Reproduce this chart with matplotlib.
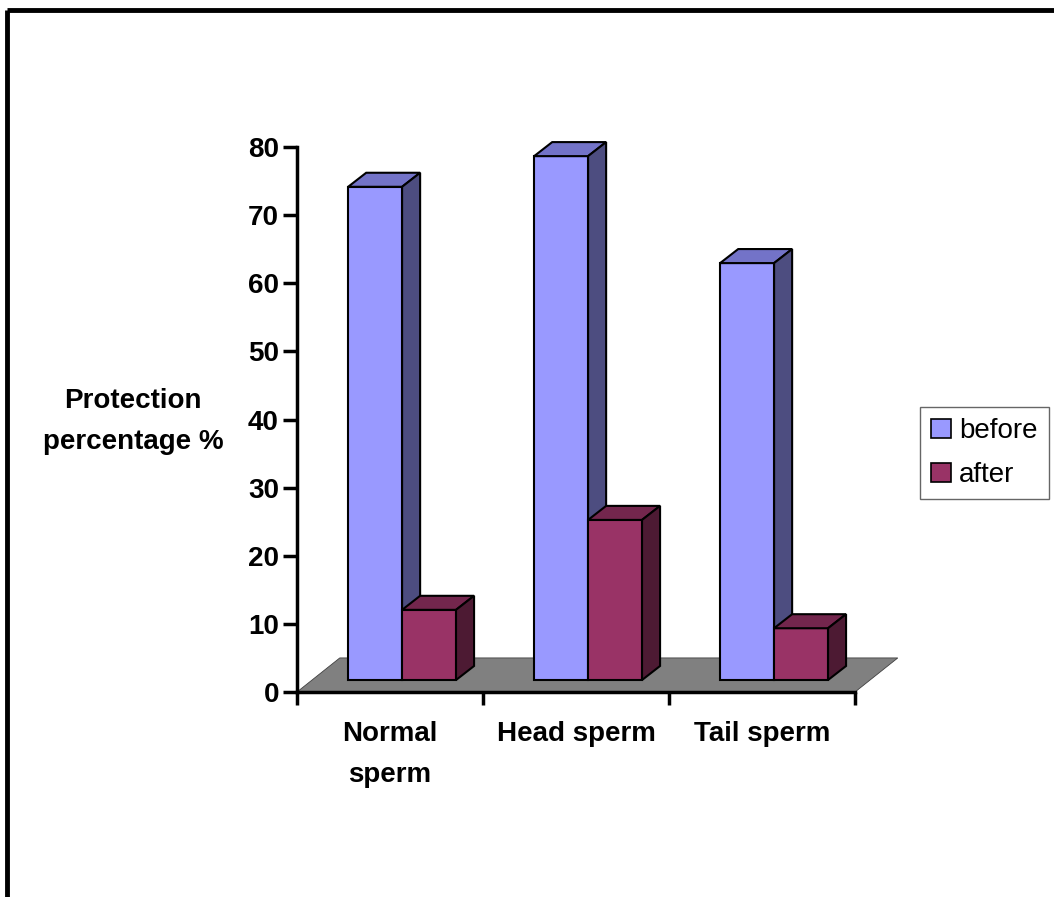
import matplotlib
matplotlib.use("Agg")
import matplotlib.pyplot as plt
from matplotlib.patches import Polygon, Patch
from matplotlib.lines import Line2D

plt.rcParams['font.family'] = ['Liberation Sans', 'DejaVu Sans']

# ---- data ----
categories = ["Normal\nsperm", "Head sperm", "Tail sperm"]
series_names = ["before", "after"]
before = [72.4, 76.9, 61.2]
after = [10.3, 23.5, 7.6]
yticks = [0, 10, 20, 30, 40, 50, 60, 70, 80]

# ---- style ----
front_cols = ["#9999FF", "#993366"]
top_cols = ["#7373C8", "#73264D"]
side_cols = ["#4D4D80", "#4D1A33"]
floor_col = "#808080"
bar_w = 0.29
floor_dx, floor_dy = 0.23, 5.0      # floor depth (data units)
front_dx, front_dy = 0.065, 1.76    # bar front face depth offset
depth_dx, depth_dy = 0.097, 2.06    # bar depth
FS = 20

fig = plt.figure(figsize=(10.54, 8.97), dpi=100)
W, H = 1054, 897
ax = fig.add_axes([297 / W, 1 - 692 / H, 558 / W, 545 / H])
ax.set_xlim(0, len(categories))
ax.set_ylim(0, 80)

# floor
n = len(categories)
floor = Polygon([(0, 0), (n, 0), (n + floor_dx, floor_dy), (floor_dx, floor_dy)],
                closed=True, facecolor=floor_col, edgecolor="#404040", lw=0.6,
                clip_on=False, zorder=1)
ax.add_patch(floor)

def draw_bar(x0, val, k):
    y0 = front_dy
    xl = x0 + front_dx
    xr = xl + bar_w
    yt = y0 + val
    kw = dict(edgecolor="black", lw=1.5, clip_on=False, zorder=3, joinstyle="miter")
    ax.add_patch(Polygon([(xl, y0), (xr, y0), (xr, yt), (xl, yt)], facecolor=front_cols[k], **kw))
    ax.add_patch(Polygon([(xl, yt), (xr, yt), (xr + depth_dx, yt + depth_dy), (xl + depth_dx, yt + depth_dy)],
                         facecolor=top_cols[k], **kw))
    ax.add_patch(Polygon([(xr, y0), (xr + depth_dx, y0 + depth_dy), (xr + depth_dx, yt + depth_dy), (xr, yt)],
                         facecolor=side_cols[k], **kw))

for i in range(n):
    draw_bar(i + 0.5 - bar_w, before[i], 0)
    draw_bar(i + 0.5, after[i], 1)

# axes styling
for s in ["top", "right"]:
    ax.spines[s].set_visible(False)
for s in ["left", "bottom"]:
    ax.spines[s].set_linewidth(2.5)
    ax.spines[s].set_zorder(2)
ax.patch.set_visible(False)

ax.set_yticks(yticks)
ax.set_yticklabels([str(v) for v in yticks], fontsize=FS, fontweight="bold")
ax.tick_params(axis="y", direction="out", length=10, width=2.5, pad=3)
ax.set_xticks(range(n + 1))
ax.set_xticklabels([])
ax.tick_params(axis="x", which="major", direction="out", length=9, width=2.5)
ax.set_xticks([i + 0.5 for i in range(n)], minor=True)
ax.set_xticklabels(categories, minor=True, fontsize=FS, fontweight="bold", linespacing=1.75)
ax.tick_params(axis="x", which="minor", length=0, pad=21)
for t in ax.get_xticklabels(minor=True):
    t.set_verticalalignment("top")
    t.set_multialignment("center")

fig.text(133 / W, 1 - 421 / H, "Protection\npercentage %", ha="center", va="center",
         fontsize=FS, fontweight="bold", linespacing=1.75)

handles = [Patch(facecolor=front_cols[k], edgecolor="black", lw=1.2) for k in range(2)]
leg = fig.legend(handles, series_names, loc="upper left",
                 bbox_to_anchor=(920 / W, 1 - 407 / H), fontsize=FS, frameon=True,
                 fancybox=False, handlelength=0.7, handleheight=0.7, handletextpad=0.3,
                 borderpad=0.4, labelspacing=0.65, borderaxespad=0)
leg.get_frame().set_edgecolor("#404040")
leg.get_frame().set_linewidth(1.0)

# outer frame (top and left border)
fig.add_artist(Line2D([7 / W, 1], [1 - 10 / H, 1 - 10 / H], transform=fig.transFigure,
                      color="black", lw=3.5, solid_capstyle="butt"))
fig.add_artist(Line2D([7 / W, 7 / W], [0, 1 - 10 / H], transform=fig.transFigure,
                      color="black", lw=3.5, solid_capstyle="butt"))

fig.savefig("out.png", dpi=100)
